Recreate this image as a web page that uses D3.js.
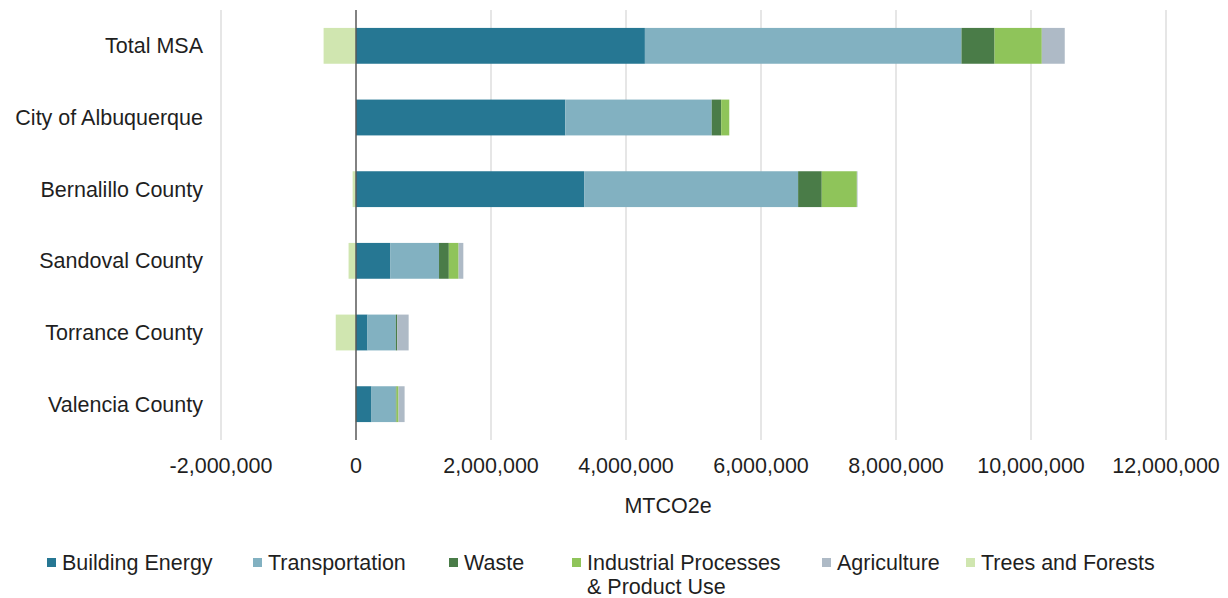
<!DOCTYPE html>
<html>
<head>
<meta charset="utf-8">
<script src="https://cdn.jsdelivr.net/npm/d3@7"></script>
<style>
  html, body { margin: 0; padding: 0; background: #fff; }
  svg { display: block; font-family: "Liberation Sans", Arial, sans-serif; }
</style>
</head>
<body>
<svg id="chart" width="1228" height="598"></svg>
<script>
// Emissions by geography and sector (MTCO2e)
const categories = ["Total MSA", "City of Albuquerque", "Bernalillo County", "Sandoval County", "Torrance County", "Valencia County"];
const buildingEnergy = [4280000, 3100000, 3380000, 510000, 170000, 230000];
const transportation = [4690000, 2170000, 3170000, 720000, 420000, 360000];
const waste          = [490000, 140000, 350000, 145000, 20000, 10000];
const industrial     = [700000, 120000, 520000, 145000, 0, 30000];
const agriculture    = [340000, 0, 10000, 70000, 170000, 90000];
const trees          = [-480000, 0, -50000, -110000, -300000, -10000];
const seriesNames = ["Building Energy", "Transportation", "Waste", "Industrial Processes & Product Use", "Agriculture", "Trees and Forests"];
const seriesValues = [buildingEnergy, transportation, waste, industrial, agriculture, trees];
const tickValues = [-2000000, 0, 2000000, 4000000, 6000000, 8000000, 10000000, 12000000];
const colors = ["#267793", "#82b1c1", "#4a7c48", "#8fc45a", "#aebac6", "#d0e6b0"];

const rows = categories.map((c, i) => {
  const r = { category: c };
  seriesNames.forEach((s, j) => { r[s] = seriesValues[j][i]; });
  return r;
});

const svg = d3.select("#chart");
const margin = { left: 221, right: 62, top: 10, bottom: 158 };
const W = 1228, H = 598;

const x = d3.scaleLinear().domain([-2000000, 12000000]).range([margin.left, W - margin.right]);
const y = d3.scaleBand().domain(categories).range([margin.top, H - margin.bottom]).paddingInner(0.5).paddingOuter(0.25);

// vertical gridlines
svg.append("g").selectAll("line").data(tickValues.filter(v => v !== 0)).join("line")
  .attr("x1", d => x(d)).attr("x2", d => x(d))
  .attr("y1", margin.top).attr("y2", H - margin.bottom)
  .attr("stroke", "#d9d9d9").attr("stroke-width", 1.3);

const stack = d3.stack().keys(seriesNames).offset(d3.stackOffsetDiverging);
const stacked = stack(rows);

svg.append("g").selectAll("g").data(stacked).join("g")
  .attr("fill", (d, i) => colors[i])
  .selectAll("rect").data(d => d).join("rect")
  .attr("x", d => x(Math.min(d[0], d[1])))
  .attr("width", d => Math.abs(x(d[1]) - x(d[0])))
  .attr("y", d => y(d.data.category))
  .attr("height", y.bandwidth());

// zero axis line
svg.append("line")
  .attr("x1", x(0)).attr("x2", x(0))
  .attr("y1", margin.top).attr("y2", H - margin.bottom)
  .attr("stroke", "#595959").attr("stroke-width", 1.5);

// x axis tick labels (plain hyphen for negatives)
const fmt = v => d3.format(",")(v).replace("\u2212", "-");
svg.append("g").selectAll("text").data(tickValues).join("text")
  .attr("x", d => x(d)).attr("y", 473)
  .attr("text-anchor", "middle")
  .attr("font-size", 21.5).attr("fill", "#1f1f1f")
  .text(d => fmt(d));

svg.append("text")
  .attr("x", 668).attr("y", 513)
  .attr("text-anchor", "middle")
  .attr("font-size", 21.5).attr("fill", "#1f1f1f")
  .text("MTCO2e");

// category labels
svg.append("g").selectAll("text").data(categories).join("text")
  .attr("x", 203).attr("y", d => y(d) + y.bandwidth() / 2)
  .attr("dy", "0.35em")
  .attr("text-anchor", "end")
  .attr("font-size", 21.5).attr("fill", "#1f1f1f")
  .text(d => d);

// legend
const legendX = [47, 253, 449, 572, 822, 966];
const legendLines = [["Building Energy"], ["Transportation"], ["Waste"], ["Industrial Processes", "& Product Use"], ["Agriculture"], ["Trees and Forests"]];
const lg = svg.append("g").selectAll("g").data(seriesNames).join("g")
  .attr("transform", (d, i) => `translate(${legendX[i]},0)`);
lg.append("rect").attr("x", 0).attr("y", 558).attr("width", 9).attr("height", 9)
  .attr("fill", (d, i) => colors[i]);
lg.each(function(d, i) {
  const t = d3.select(this).append("text")
    .attr("x", 15).attr("y", 570)
    .attr("font-size", 21.5).attr("fill", "#1f1f1f");
  legendLines[i].forEach((line, k) => {
    t.append("tspan").attr("x", 15).attr("y", 570 + k * 24).text(line);
  });
});
</script>
</body>
</html>
